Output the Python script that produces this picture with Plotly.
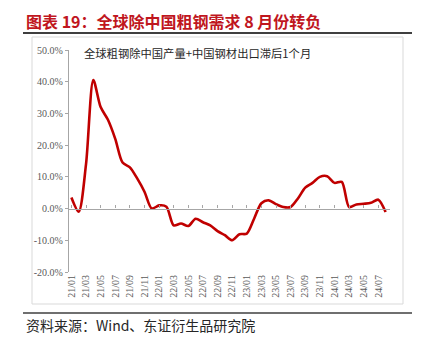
import plotly.graph_objects as go

months = [f"{y:02d}/{m:02d}" for y in (21, 22, 23, 24) for m in range(1, 13)][:44]
values = [3.5, -1.0, 14.0, 40.5, 32.0, 28.0, 22.0, 14.5, 13.0, 9.5, 5.3, 0.0,
          1.0, 0.6, -5.3, -4.7, -5.5, -3.2, -4.3, -5.3, -7.1, -8.4, -10.0, -8.1,
          -7.9, -3.2, 1.7, 2.6, 1.4, 0.5, 0.5, 3.2, 6.6, 8.1, 10.0, 10.2,
          8.1, 8.4, 0.5, 1.3, 1.5, 1.8, 2.8, -1.1]
tick_months = months[0:43:2]
y_ticks = [-20, -10, 0, 10, 20, 30, 40, 50]
y_labels = [f"{v:.1f}%" for v in y_ticks]
series_name = "全球粗钢除中国产量+中国钢材出口滞后1个月"
title_text = "图表 19：全球除中国粗钢需求 8 月份转负"
source_text = "资料来源：Wind、东证衍生品研究院"

W, H = 424, 341
L, R, T, B = 69, 390, 50, 272


def px(x):
    return (x - L) / (R - L)


def py(y):
    return (B - y) / (B - T)


RED = "#C00000"
GRAY = "#a6a6a6"
SERIF = "Liberation Serif, Times New Roman, serif"
CJK = "Noto Sans CJK SC"

fig = go.Figure()
fig.add_trace(go.Scatter(x=months, y=values, mode="lines",
                         line=dict(color=RED, width=2.6, shape="spline", smoothing=0.8),
                         name=series_name, showlegend=False, xaxis="x", yaxis="y"))
fig.add_trace(go.Scatter(x=months, y=values, mode="lines", opacity=0,
                         hoverinfo="skip", showlegend=False, xaxis="x2", yaxis="y"))

fig.update_layout(
    width=W, height=H,
    margin=dict(l=L, r=W - R, t=T, b=H - B, pad=0),
    paper_bgcolor="white", plot_bgcolor="white",
    xaxis=dict(type="category", range=[-0.33, 43.6], tickmode="array",
               tickvals=tick_months, ticktext=tick_months, tickangle=-90,
               showline=False, showgrid=False, zeroline=False, ticks="",
               tickfont=dict(family=SERIF, size=10, color="#595959")),
    xaxis2=dict(type="category", range=[-0.33, 43.6], overlaying="x", anchor="free",
                position=2 / 7, matches="x", tickmode="array", tickvals=tick_months,
                showticklabels=False, showline=True, linecolor=GRAY, linewidth=1.3,
                ticks="inside", ticklen=3, tickcolor=GRAY, showgrid=False, zeroline=False),
    yaxis=dict(range=[-20, 50], tickmode="array", tickvals=y_ticks, ticktext=y_labels,
               showline=True, linecolor=GRAY, linewidth=1.3, ticks="outside",
               ticklen=3, tickcolor=GRAY, showgrid=False, zeroline=False,
               tickfont=dict(family=SERIF, size=10, color="#595959")),
    showlegend=False,
)

fig.add_annotation(text=f"<b>{title_text}</b>", xref="paper", yref="paper",
                   x=px(24), y=py(21), xanchor="left", yanchor="middle", showarrow=False,
                   font=dict(family=CJK, size=16, color="#C0161E"))
fig.add_annotation(text=series_name, xref="paper", yref="paper",
                   x=px(82), y=py(53), xanchor="left", yanchor="middle", showarrow=False,
                   font=dict(family=CJK, size=11.3, color="#262626"))
fig.add_annotation(text=source_text, xref="paper", yref="paper",
                   x=px(24), y=py(325), xanchor="left", yanchor="middle", showarrow=False,
                   font=dict(family=CJK, size=14, color="#262626"))

fig.add_shape(type="line", xref="paper", yref="paper", x0=px(23), x1=px(412),
              y0=py(33), y1=py(33), line=dict(color="#3f3f3f", width=2))
fig.add_shape(type="line", xref="paper", yref="paper", x0=px(23), x1=px(412),
              y0=py(313), y1=py(313), line=dict(color="#3f3f3f", width=1.5))
fig.add_shape(type="rect", xref="paper", yref="paper", x0=px(32), x1=px(403),
              y0=py(304), y1=py(37), line=dict(color="#d9d9d9", width=1), layer="below")

fig.write_html("out.html")
